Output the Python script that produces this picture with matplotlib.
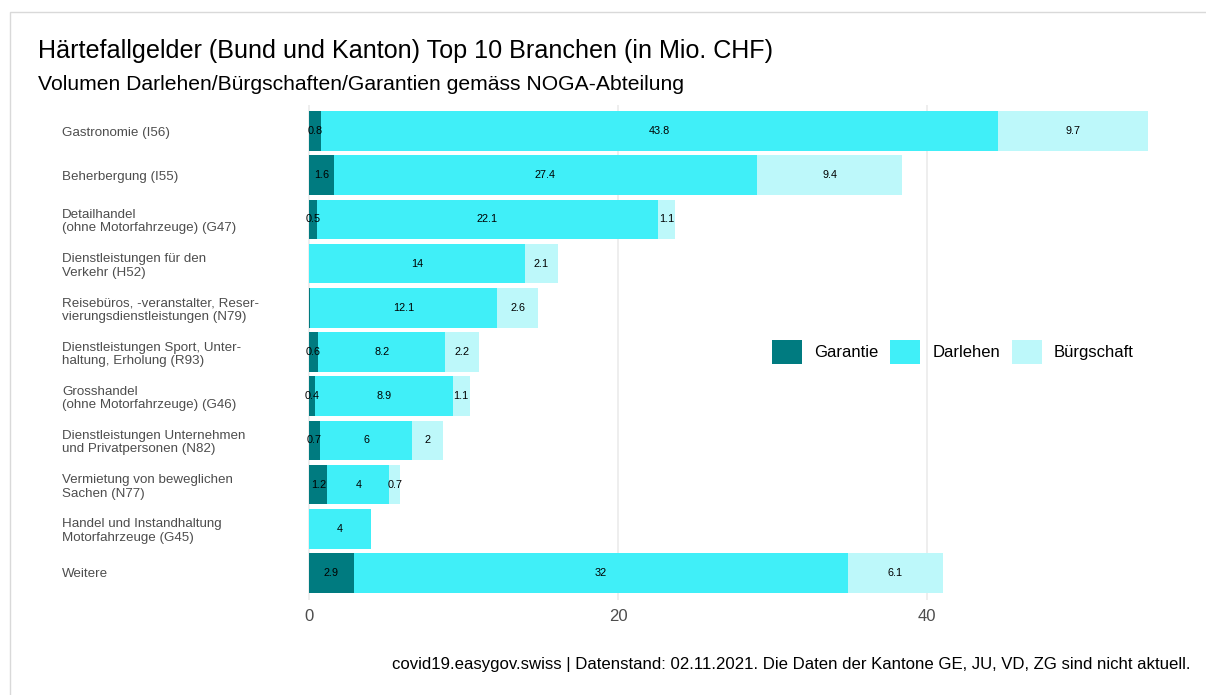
import numpy as np
import matplotlib
matplotlib.use("Agg")
import matplotlib.pyplot as plt
from matplotlib.patches import Patch, Rectangle

plt.rcParams["font.family"] = ["Liberation Sans", "DejaVu Sans"]

branchen = [
    "Gastronomie (I56)",
    "Beherbergung (I55)",
    "Detailhandel\n(ohne Motorfahrzeuge) (G47)",
    "Dienstleistungen für den\nVerkehr (H52)",
    "Reisebüros, -veranstalter, Reser-\nvierungsdienstleistungen (N79)",
    "Dienstleistungen Sport, Unter-\nhaltung, Erholung (R93)",
    "Grosshandel\n(ohne Motorfahrzeuge) (G46)",
    "Dienstleistungen Unternehmen\nund Privatpersonen (N82)",
    "Vermietung von beweglichen\nSachen (N77)",
    "Handel und Instandhaltung\nMotorfahrzeuge (G45)",
    "Weitere",
]
garantie = [0.8, 1.6, 0.5, 0.0, 0.1, 0.6, 0.4, 0.7, 1.2, 0.0, 2.9]
darlehen = [43.8, 27.4, 22.1, 14, 12.1, 8.2, 8.9, 6, 4, 4, 32]
buergschaft = [9.7, 9.4, 1.1, 2.1, 2.6, 2.2, 1.1, 2, 0.7, 0.0, 6.1]

series = [("Garantie", garantie, "#007B80"),
          ("Darlehen", darlehen, "#40EFF8"),
          ("Bürgschaft", buergschaft, "#BDF8FA")]

W, H = 1206, 695
fig = plt.figure(figsize=(W / 100, H / 100), dpi=100)

# outer frame
fig.patches.append(Rectangle((10 / W, -0.01), 1.1, (H - 12) / H + 0.01,
                             transform=fig.transFigure, fill=False,
                             edgecolor="#d9d9d9", lw=1))

px_left, px_right = 267.0, 1190.0
px_top, px_bottom = 104.5, 599.5
ax = fig.add_axes([px_left / W, 1 - px_bottom / H,
                   (px_right - px_left) / W, (px_bottom - px_top) / H])

y = np.arange(len(branchen))
left = np.zeros(len(branchen))
for name, vals, col in series:
    vals = np.array(vals, dtype=float)
    ax.barh(y, vals, left=left, height=0.9, color=col, label=name, zorder=2)
    for yi, (l, v) in enumerate(zip(left, vals)):
        if v >= 0.2:
            ax.text(l + v / 2, yi, f"{v:g}", ha="center", va="center",
                    fontsize=7.8, color="black", zorder=3)
    left += vals

ax.set_xlim(-2.715, 57.015)
ax.set_ylim(len(branchen) - 1 + 0.6, -0.6)
ax.set_yticks(y)
ax.set_yticklabels(branchen, ha="left", fontsize=9.6, color="#4d4d4d",
                   linespacing=1.17)
ax.tick_params(axis="y", length=0, pad=(px_left - 62) * 0.72)
ax.set_xticks([0, 20, 40])
ax.tick_params(axis="x", length=0, labelsize=12, labelcolor="#4d4d4d", pad=7)
ax.grid(axis="x", color="#ebebeb", lw=1.2, zorder=0)
for s in ax.spines.values():
    s.set_visible(False)

handles = [Patch(facecolor=c, label=n) for n, _, c in series]
fig.legend(handles=handles, loc="center", ncol=3,
           bbox_to_anchor=(953 / W, 1 - 352 / H), frameon=False,
           fontsize=12, handlelength=1.8, handleheight=1.8,
           columnspacing=0.72, handletextpad=0.72)

fig.text(38 / W, 1 - 51 / H, "Härtefallgelder (Bund und Kanton) Top 10 Branchen (in Mio. CHF)",
         fontsize=18.1, va="center", ha="left")
fig.text(38 / W, 1 - 84 / H, "Volumen Darlehen/Bürgschaften/Garantien gemäss NOGA-Abteilung",
         fontsize=15.2, va="center", ha="left")
fig.text(1190 / W, 1 - 665 / H,
         "covid19.easygov.swiss | Datenstand: 02.11.2021. Die Daten der Kantone GE, JU, VD, ZG sind nicht aktuell.",
         fontsize=12.1, va="center", ha="right")

fig.savefig("out.png", dpi=100)
